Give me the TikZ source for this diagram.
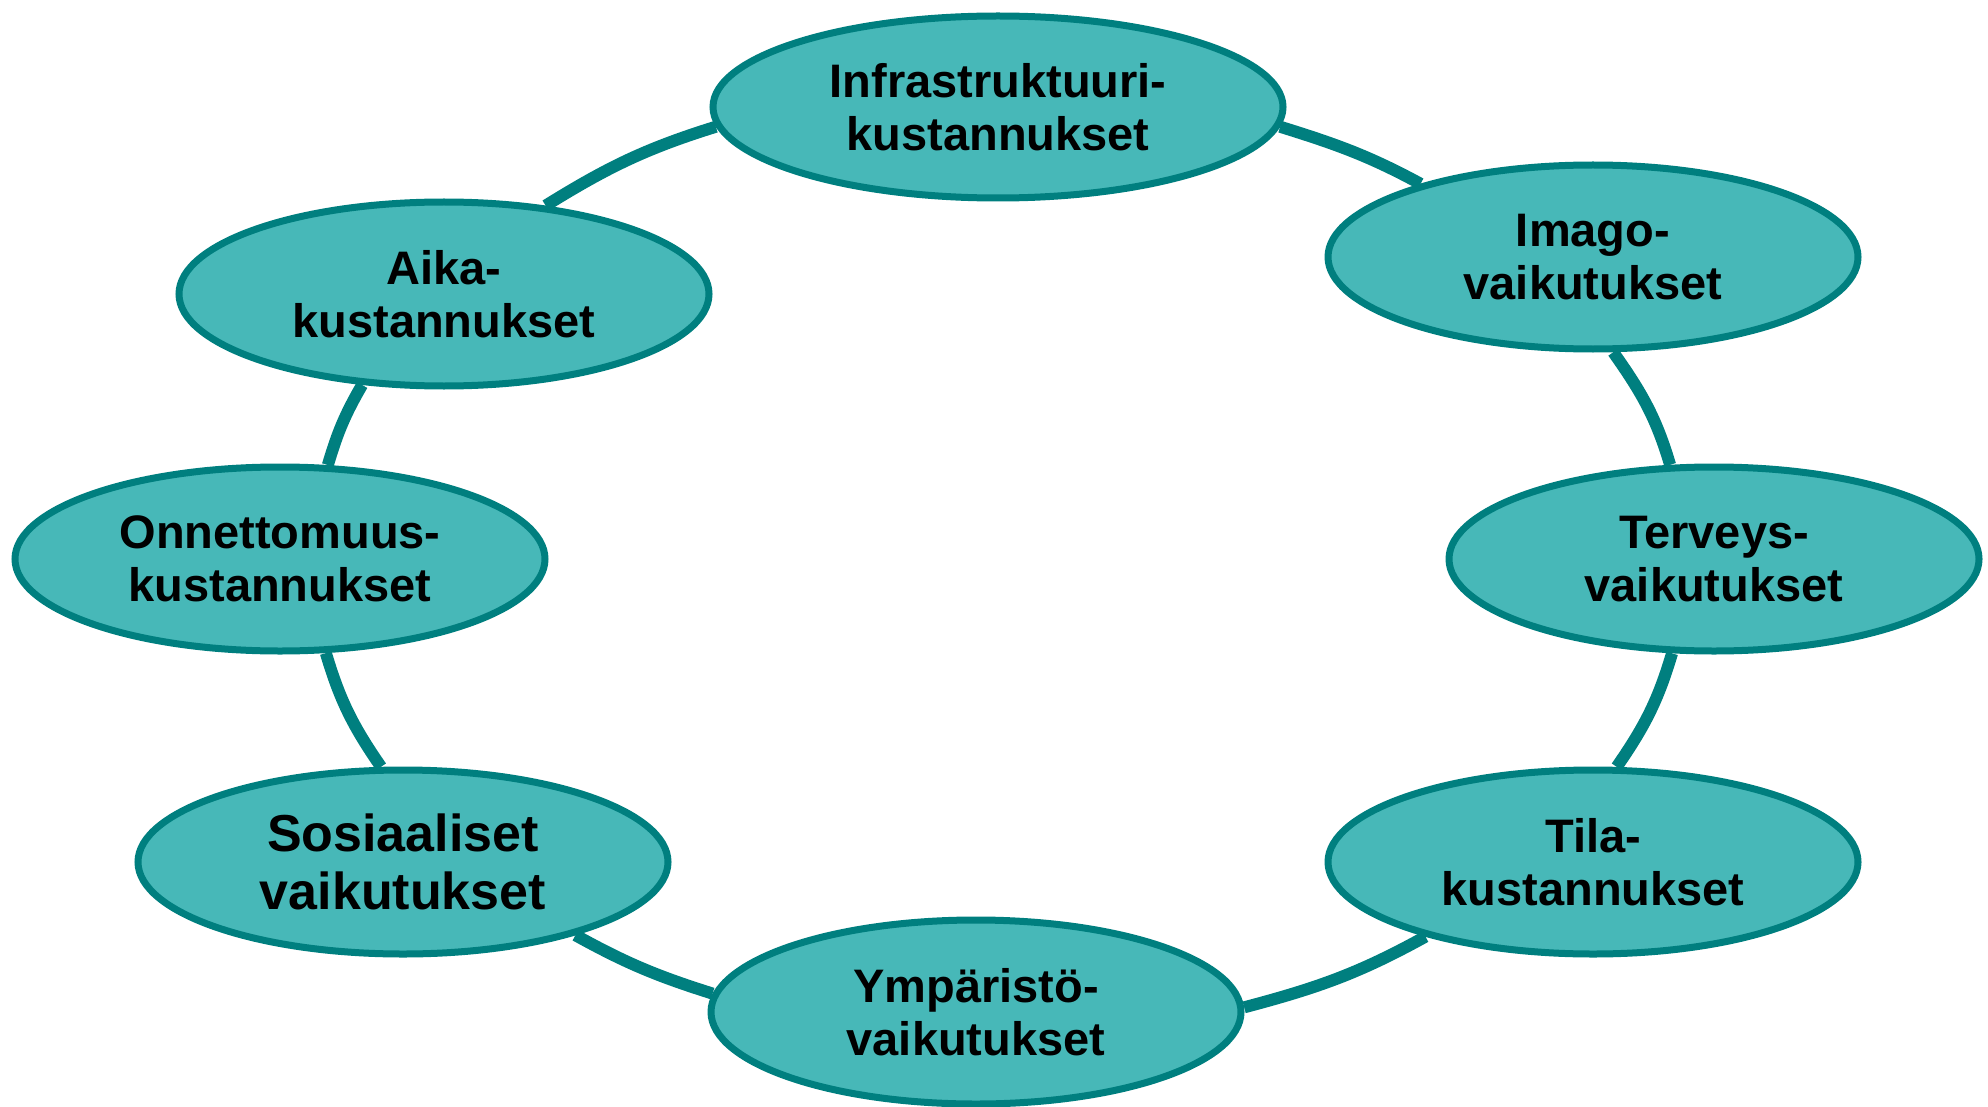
\documentclass[tikz,border=0pt]{standalone}
\usepackage{fontspec}
\setmainfont{Liberation Sans}
\usetikzlibrary{shapes.geometric,backgrounds}
\definecolor{tealfill}{HTML}{47B8B8}
\definecolor{tealline}{HTML}{007F7F}
\tikzset{
  bubble/.style={ellipse, draw=tealline, fill=tealfill, line width=7pt,
    minimum width=530pt, minimum height=184pt, inner sep=0pt, align=center,
    font=\fontsize{47}{53}\selectfont\bfseries, text=black},
  ring/.style={draw=tealline, line width=12pt}
}
\begin{document}
\begin{tikzpicture}[x=1pt,y=-1pt]
\useasboundingbox (0,0) rectangle (1988,1107);
\node[bubble, minimum width=570pt, minimum height=182pt] (infra) at (998,107) {Infrastruktuuri-\\kustannukset};
\node[bubble] (imago) at (1593,257) {Imago-\\vaikutukset};
\node[bubble] (terveys) at (1714,559) {Terveys-\\vaikutukset};
\node[bubble] (tila) at (1593,862) {Tila-\\kustannukset};
\node[bubble] (ymp) at (976,1012) {Ympäristö-\\vaikutukset};
\node[bubble, font=\fontsize{52}{58}\selectfont\bfseries] (sos) at (403,862) {Sosiaaliset\\vaikutukset};
\node[bubble] (onn) at (280,559) {Onnettomuus-\\kustannukset};
\node[bubble] (aika) at (444,294) {Aika-\\kustannukset};
\begin{pgfonlayer}{background}
\draw[ring] (infra.-4.2) to[out=-17.3, in=151.6] (imago.157.9);
\draw[ring] (imago.-78.3) to[out=-54.7, in=106.5] (terveys.115.9);
\draw[ring] (terveys.-114.5) to[out=-106.5, in=55.3] (tila.76.6);
\draw[ring] (tila.-156.7) to[out=-151.1, in=14.8] (ymp.1.3);
\draw[ring] (ymp.176.2) to[out=162.5, in=-28.9] (sos.-23.3);
\draw[ring] (sos.103.4) to[out=124.7, in=-73.5] (onn.-64.5);
\draw[ring] (onn.63.1) to[out=73.5, in=-120.2] (aika.-132.1);
\draw[ring] (aika.41.6) to[out=31.8, in=-162.7] (infra.184.2);
\end{pgfonlayer}
\end{tikzpicture}
\end{document}
